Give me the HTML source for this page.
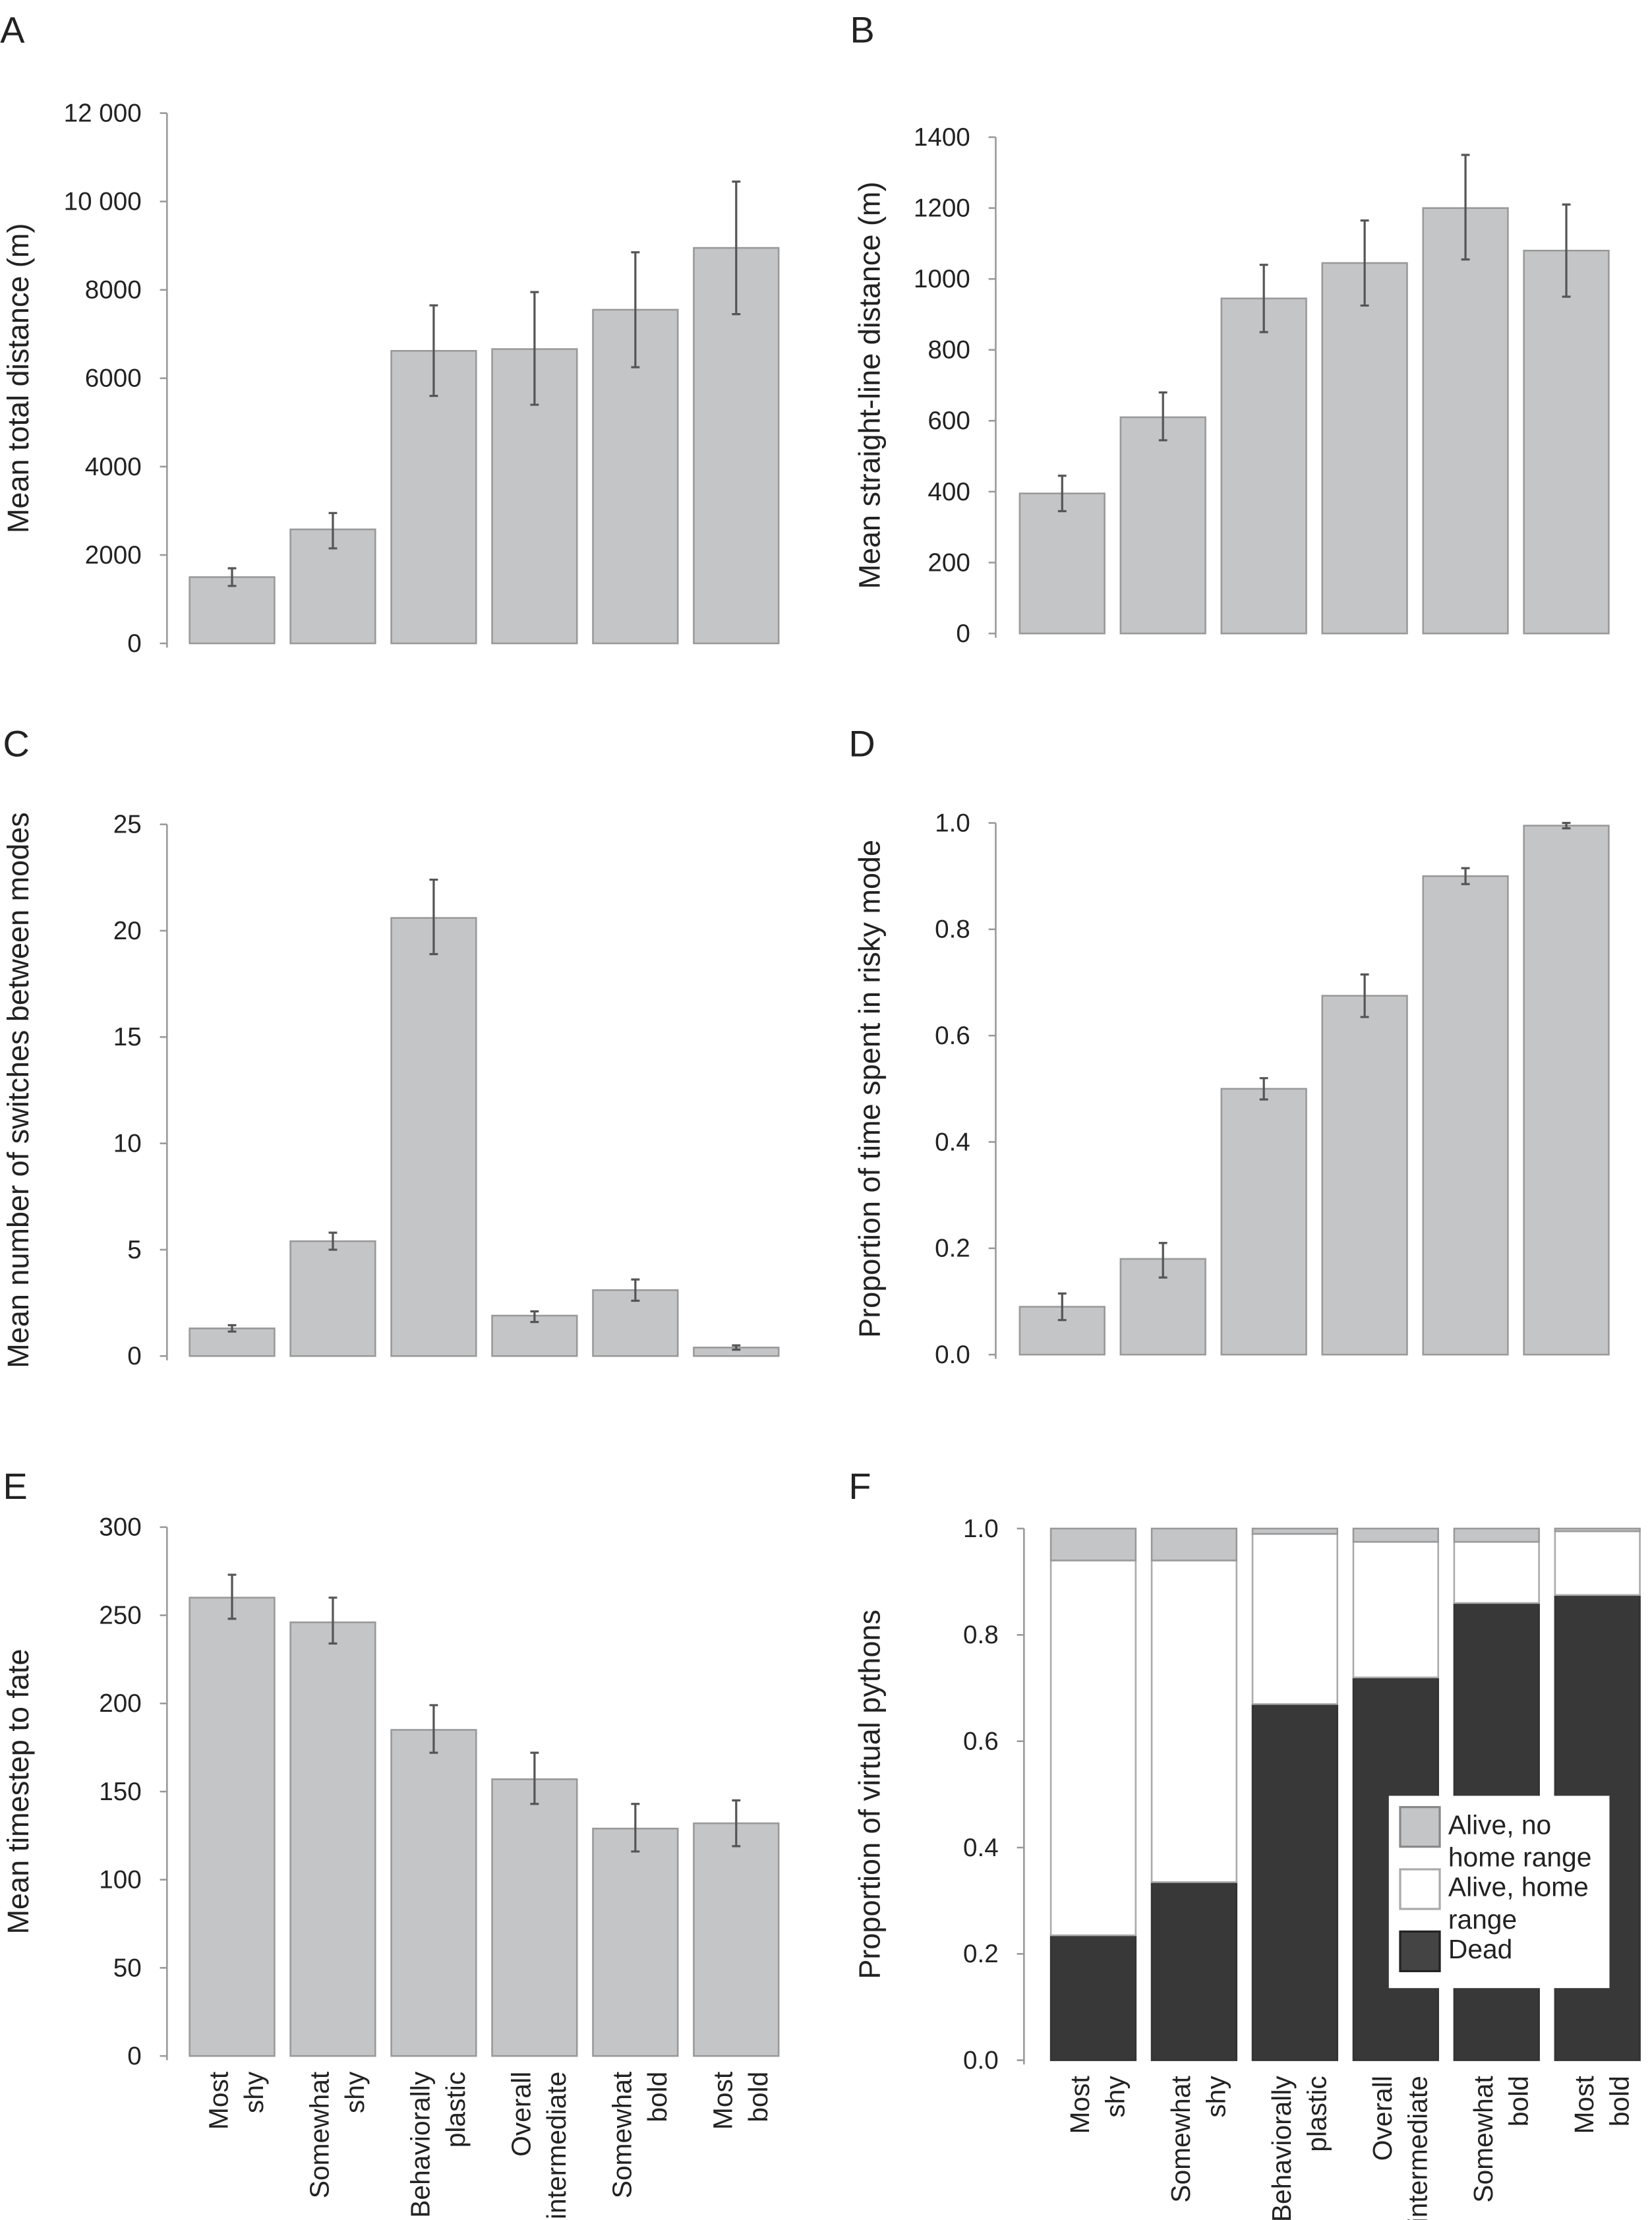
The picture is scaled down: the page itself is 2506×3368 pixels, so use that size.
<!DOCTYPE html>
<html><head><meta charset="utf-8"><style>
html,body{margin:0;padding:0;background:#fff}
svg{display:block}
text{font-family:"Liberation Sans",sans-serif;fill:#222}
</style></head><body>
<svg id="fig" width="2506" height="3368" viewBox="0 0 1168 1570" xmlns="http://www.w3.org/2000/svg"></svg>
<script>
const categories=[["Most","shy"],["Somewhat","shy"],["Behaviorally","plastic"],["Overall","intermediate"],["Somewhat","bold"],["Most","bold"]];
const aVals=[1500,2580,6620,6660,7550,8950];
const aLo=[1300,2150,5600,5400,6250,7450];
const aHi=[1700,2950,7650,7950,8850,10450];
const aTicks=["0","2000","4000","6000","8000","10 000","12 000"];
const bVals=[395,610,945,1045,1200,1080];
const bLo=[345,545,850,925,1055,950];
const bHi=[445,680,1040,1165,1350,1210];
const bTicks=["0","200","400","600","800","1000","1200","1400"];
const cVals=[1.3,5.4,20.6,1.9,3.1,0.4];
const cLo=[1.15,5.0,18.9,1.6,2.6,0.3];
const cHi=[1.45,5.8,22.4,2.1,3.6,0.5];
const cTicks=["0","5","10","15","20","25"];
const dVals=[0.09,0.18,0.5,0.675,0.9,0.995];
const dLo=[0.065,0.145,0.48,0.635,0.885,0.99];
const dHi=[0.115,0.21,0.52,0.715,0.915,1.0];
const dTicks=["0.0","0.2","0.4","0.6","0.8","1.0"];
const eVals=[260,246,185,157,129,132];
const eLo=[248,234,172,143,116,119];
const eHi=[273,260,199,172,143,145];
const eTicks=["0","50","100","150","200","250","300"];
const fDead=[0.235,0.335,0.67,0.72,0.86,0.875];
const fHome=[0.705,0.605,0.32,0.255,0.115,0.12];
const fNoHome=[0.06,0.06,0.01,0.025,0.025,0.005];
const fTicks=["0.0","0.2","0.4","0.6","0.8","1.0"];

const NS="http://www.w3.org/2000/svg";
const svg=document.getElementById('fig');
function mk(tag,attrs,parent,txt){const e=document.createElementNS(NS,tag);for(const k in attrs)e.setAttribute(k,attrs[k]);if(txt!==undefined)e.textContent=txt;(parent||svg).appendChild(e);return e;}

function panel(o){
  const g=mk('g',{});
  
  
  const max=parseFloat(o.ticks[o.ticks.length-1].replace(' ',''));
  const y=v=>o.y0-(v/max)*(o.y0-o.y1);
  const letter=mk('text',{x:o.lx,y:o.ly,'font-size':26},g,o.letter);
  
  
  const ax=mk('line',{x1:o.ax,x2:o.ax,y1:o.y0+3,y2:o.y1,stroke:'#999','stroke-width':1.2},g);
  
  
  o.ticks.forEach(t=>{
    const v=parseFloat(t.replace(' ',''));
    mk('line',{x1:o.ax-5,x2:o.ax,y1:y(v),y2:y(v),stroke:'#999','stroke-width':1.2},g);
    const tl=mk('text',{x:o.ax-18,y:y(v)+6,'font-size':18,'text-anchor':'end'},g,t);
    
    
  });
  const ym=(o.y0+o.y1)/2;
  const tt=mk('text',{x:o.tx,y:ym,'font-size':21,'text-anchor':'middle',transform:`rotate(-90 ${o.tx} ${ym})`},g,o.title);
  
  
  const bw=60,step=71.3;
  for(let i=0;i<6;i++){
    const bx=o.bx+i*step;
    if(o.stack){
      let base=0;
      const parts=[[o.stack[0][i],'#383838','#333'],[o.stack[1][i],'#ffffff','#aaa'],[o.stack[2][i],'#c4c5c7','#999']];
      parts.forEach((p,k)=>{
        const r=mk('rect',{x:bx,y:y(base+p[0]),width:bw,height:y(base)-y(base+p[0]),fill:p[1],stroke:p[2],'stroke-width':1.2},g);
        
        
        base+=p[0];
      });
    } else {
      const r=mk('rect',{x:bx,y:y(o.vals[i]),width:bw,height:o.y0-y(o.vals[i]),fill:'#c4c5c7',stroke:'#999','stroke-width':1.2},g);
      
      
      const cx=bx+bw/2;
      const eb=mk('path',{d:`M${cx},${y(o.lo[i])}V${y(o.hi[i])}M${cx-3},${y(o.lo[i])}H${cx+3}M${cx-3},${y(o.hi[i])}H${cx+3}`,stroke:'#555','stroke-width':1.5,fill:'none'},g);
      
      
    }
    if(o.xlabels){
      const cx=bx+bw/2, ty=o.y0+11;
      [[categories[i][0],cx-3],[categories[i][1],cx+22]].forEach(([s,x])=>{
        const l=mk('text',{x:x,y:ty,'font-size':19,'text-anchor':'end',transform:`rotate(-90 ${x} ${ty})`},g,s);
        
        
      });
    }
  }
  return {g,y};
}

panel({name:'panel-a',letter:'A',lx:0,ly:30,ax:118,y0:455,y1:80,ticks:aTicks,tx:20,title:'Mean total distance (m)',bx:134,vals:aVals,lo:aLo,hi:aHi});
panel({name:'panel-b',letter:'B',lx:601,ly:30,ax:704,y0:448,y1:97,ticks:bTicks,tx:622,title:'Mean straight-line distance (m)',bx:721,vals:bVals,lo:bLo,hi:bHi});
panel({name:'panel-c',letter:'C',lx:2,ly:535,ax:118,y0:959,y1:583,ticks:cTicks,tx:20,title:'Mean number of switches between modes',bx:134,vals:cVals,lo:cLo,hi:cHi});
panel({name:'panel-d',letter:'D',lx:600,ly:535,ax:704,y0:958,y1:582,ticks:dTicks,tx:622,title:'Proportion of time spent in risky mode',bx:721,vals:dVals,lo:dLo,hi:dHi});
panel({name:'panel-e',letter:'E',lx:2,ly:1060,ax:118,y0:1454,y1:1080,ticks:eTicks,tx:20,title:'Mean timestep to fate',bx:134,vals:eVals,lo:eLo,hi:eHi,xlabels:true});
panel({name:'panel-f',letter:'F',lx:600,ly:1060,ax:724,y0:1457,y1:1081,ticks:fTicks,tx:622,title:'Proportion of virtual pythons',bx:743,stack:[fDead,fHome,fNoHome],xlabels:true});

const lg=mk('g',{});


mk('rect',{x:982,y:1270,width:156,height:136,fill:'#fff'},lg);
const entries=[['#c4c5c7','#888',1285,['Alive, no','home range']],['#fff','#aaa',1329,['Alive, home','range']],['#444','#222',1373,['Dead']]];
entries.forEach(([f,s,yy,lines])=>{
  const sw=mk('rect',{x:990,y:yy-7,width:28,height:28,fill:f,stroke:s,'stroke-width':1.5},lg);
  
  
  lines.forEach((t,k)=>{
    const tx=mk('text',{x:1024,y:yy+12+k*23,'font-size':19},lg,t);
    
    
  });
});
</script>
</body></html>
